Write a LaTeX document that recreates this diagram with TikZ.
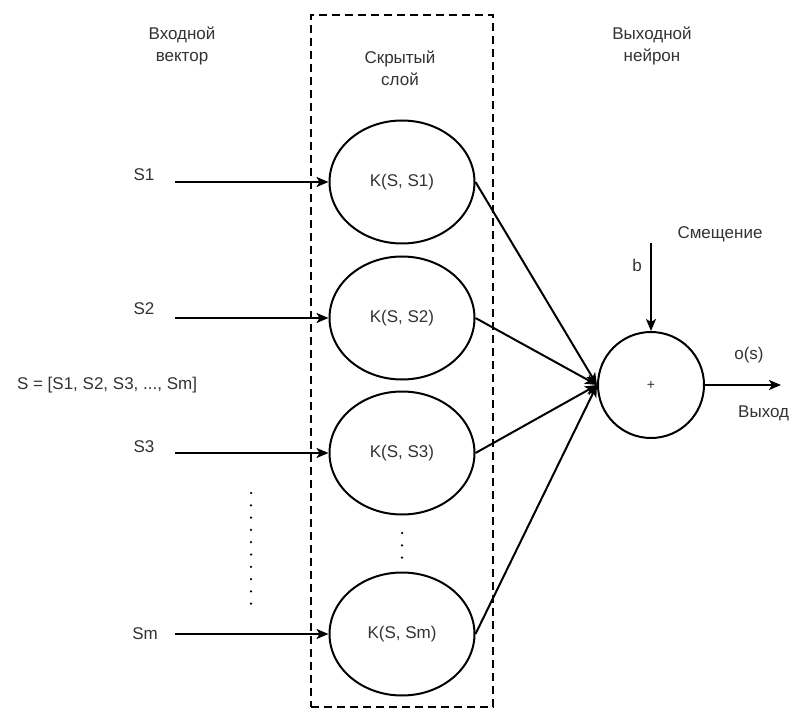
\documentclass[tikz,border=0pt]{standalone}
\usepackage{fontspec}
\setmainfont{Liberation Sans}
\usetikzlibrary{arrows.meta,shapes.geometric}
\begin{document}
\begin{tikzpicture}[x=1pt,y=-1pt,
  lbl/.style={font=\fontsize{17}{22}\selectfont, text=black!80, inner sep=0pt, align=center},
  kell/.style={draw, ellipse, line width=2pt, minimum width=145pt, minimum height=123pt, inner sep=0pt, font=\fontsize{17}{22}\selectfont, text=black!80},
  sumnode/.style={draw, circle, line width=2pt, minimum size=106pt, inner sep=0pt, font=\fontsize{14}{16}\selectfont, text=black!80},
  arr/.style={-{Stealth[length=12pt,width=10pt,inset=3pt]}, line width=2pt},
  dotline/.style={line width=2.5pt, line cap=round, dash pattern=on 0pt off 12.3pt},
  hidbox/.style={draw, dash pattern=on 8pt off 5pt, line width=2.3pt, minimum width=182pt, minimum height=692pt, inner sep=0pt}
]
\useasboundingbox (0,0) rectangle (790,711);
\fill[white] (0,0) rectangle (790,711);

% hidden layer box
\node[hidbox] (box) at (402,361) {};

% headers
\node[lbl] (hin) at (182,46) {Входной\\вектор};
\node[lbl] (hhid) at (400,68) {Скрытый\\слой};
\node[lbl] (hout) at (652,46) {Выходной\\нейрон};

% kernel nodes
\node[kell] (k1) at (402,182) {K(S, S1)};
\node[kell] (k2) at (402,318) {K(S, S2)};
\node[kell] (k3) at (402,453) {K(S, S3)};
\node[kell] (km) at (402,634) {K(S, Sm)};

% output neuron
\node[sumnode] (out) at (651,385) {+};

% input labels
\node[lbl] (s1) at (144,175) {S1};
\node[lbl] (s2) at (144,309) {S2};
\node[lbl] (s3) at (144,447) {S3};
\node[lbl] (sm) at (145,634) {Sm};
\node[lbl] (svec) at (107,385) {S = [S1, S2, S3, ..., Sm]};

% input arrow starts
\coordinate (i1) at (175,182);
\coordinate (i2) at (175,318);
\coordinate (i3) at (175,453);
\coordinate (im) at (175,634);
\draw[arr] (i1) -- (k1.west);
\draw[arr] (i2) -- (k2.west);
\draw[arr] (i3) -- (k3.west);
\draw[arr] (im) -- (km.west);

% kernels to sum
\draw[arr] (k1.east) -- (out.west);
\draw[arr] (k2.east) -- (out.west);
\draw[arr] (k3.east) -- (out.west);
\draw[arr] (km.east) -- (out.west);

% bias
\coordinate (btop) at (651,243);
\draw[arr] (btop) -- (out.north);
\node[lbl] (blbl) at (637,265) {b};
\node[lbl] (bias) at (720,234) {Смещение};

% output
\coordinate (oend) at (781,385);
\draw[arr] (out.east) -- (oend);
\node[lbl] (os) at (749,355) {o(s)};
\node[lbl, anchor=west] (vyh) at (738,413) {Выход};

% ellipsis dots
\coordinate (d1a) at (251,493);
\coordinate (d1b) at (251,607);
\draw[dotline] (d1a) -- (d1b);
\coordinate (d2a) at (402,533);
\coordinate (d2b) at (402,559);
\draw[dotline] (d2a) -- (d2b);
\end{tikzpicture}
\end{document}
